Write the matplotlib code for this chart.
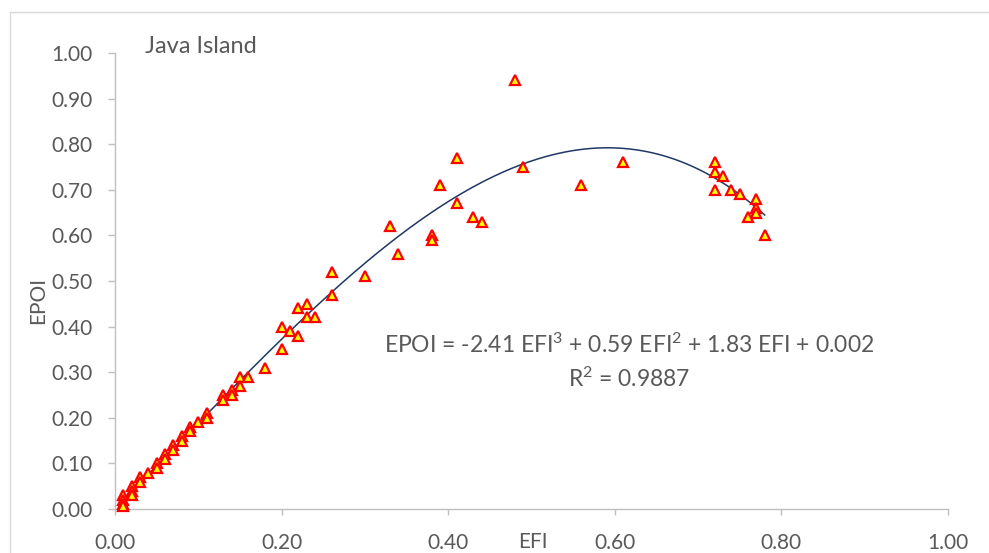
import numpy as np
import matplotlib
matplotlib.use("Agg")
import matplotlib.pyplot as plt
from matplotlib.patches import Rectangle

plt.rcParams['font.family'] = ['Lato', 'DejaVu Sans']
plt.rcParams['mathtext.fontset'] = 'custom'
plt.rcParams['mathtext.rm'] = 'Lato'
plt.rcParams['mathtext.it'] = 'Lato'
plt.rcParams['mathtext.bf'] = 'Lato'

efi = [0.48, 0.41, 0.49, 0.61, 0.39, 0.56, 0.41, 0.43, 0.44, 0.33,
       0.38, 0.38, 0.34, 0.26, 0.30, 0.26, 0.22, 0.23, 0.23, 0.24,
       0.20, 0.21, 0.22, 0.20, 0.18, 0.15, 0.16, 0.15, 0.14, 0.13,
       0.14, 0.13, 0.11, 0.11, 0.10, 0.09, 0.09, 0.08, 0.08, 0.07,
       0.07, 0.06, 0.06, 0.05, 0.05, 0.04, 0.03, 0.03, 0.02, 0.02,
       0.02, 0.01, 0.01, 0.01, 0.01, 0.72, 0.72, 0.73, 0.72, 0.74,
       0.75, 0.77, 0.77, 0.77, 0.76, 0.78]
epoi = [0.94, 0.77, 0.75, 0.76, 0.71, 0.71, 0.67, 0.64, 0.63, 0.62,
        0.60, 0.59, 0.56, 0.52, 0.51, 0.47, 0.44, 0.45, 0.42, 0.42,
        0.40, 0.39, 0.38, 0.35, 0.31, 0.29, 0.29, 0.27, 0.26, 0.25,
        0.25, 0.24, 0.21, 0.20, 0.19, 0.18, 0.17, 0.16, 0.15, 0.14,
        0.13, 0.12, 0.11, 0.10, 0.09, 0.08, 0.07, 0.06, 0.05, 0.04,
        0.03, 0.03, 0.02, 0.012, 0.007, 0.76, 0.74, 0.73, 0.70, 0.70,
        0.69, 0.68, 0.66, 0.65, 0.64, 0.60]

trend_coef = [-2.41, 0.59, 1.83, 0.002]
x_ticks = [0.0, 0.2, 0.4, 0.6, 0.8, 1.0]
y_ticks = [0.0, 0.1, 0.2, 0.3, 0.4, 0.5, 0.6, 0.7, 0.8, 0.9, 1.0]

W, H = 989, 553
fig = plt.figure(figsize=(W / 100, H / 100), dpi=100)
fig.patch.set_facecolor('white')

# chart border (visible on top and left only)
fig.patches.append(Rectangle((10 / W, -0.1), 1.2, 1 - 12 / H + 0.1,
                             transform=fig.transFigure, fill=False,
                             edgecolor='#d9d9d9', linewidth=1.0))

ax = fig.add_axes([115 / W, (H - 509) / H, (948 - 115) / W, (509 - 53) / H])
ax.set_xlim(0, 1)
ax.set_ylim(0, 1)

grey = '#bfbfbf'
txt = '#595959'
for s in ['top', 'right']:
    ax.spines[s].set_visible(False)
for s in ['left', 'bottom']:
    ax.spines[s].set_color(grey)
    ax.spines[s].set_linewidth(1.0)

ax.set_xticks(x_ticks)
ax.set_yticks(y_ticks)
ax.set_xticklabels([f"{v:.2f}" for v in x_ticks])
ax.set_yticklabels([f"{v:.2f}" for v in y_ticks])
ax.tick_params(axis='x', direction='out', length=4.5, width=1.0, color=grey,
               labelcolor=txt, labelsize=15, pad=13)
ax.tick_params(axis='y', direction='out', length=5, width=1.0, color=grey,
               labelcolor=txt, labelsize=15, pad=11)

xs = np.linspace(min(efi), max(efi), 300)
ax.plot(xs, np.polyval(trend_coef, xs), color='#1f3864', linewidth=1.1, zorder=2)

ax.plot(efi, epoi, linestyle='none', marker='^', markersize=6.5,
        markerfacecolor='#ffff00', markeredgecolor='#ff0000',
        markeredgewidth=1.6, zorder=3, clip_on=False)

ax.text(0.036, 1.015, 'Java Island', color=txt, fontsize=17,
        ha='left', va='center', clip_on=False)
ax.text(0.617, 0.36,
        r'EPOI = -2.41 EFI$^{\mathrm{3}}$ + 0.59 EFI$^{\mathrm{2}}$ + 1.83 EFI + 0.002',
        color=txt, fontsize=16.5, ha='center', va='center')
ax.text(0.617, 0.285, r'R$^{\mathrm{2}}$ = 0.9887', color=txt, fontsize=16.5,
        ha='center', va='center')

fig.text(38 / W, 1 - 300 / H, 'EPOI', rotation=90, color=txt, fontsize=15,
         ha='center', va='center')
fig.text(533 / W, 1 - 542 / H, 'EFI', color=txt, fontsize=15,
         ha='center', va='center')

fig.savefig('out.png', dpi=100)
